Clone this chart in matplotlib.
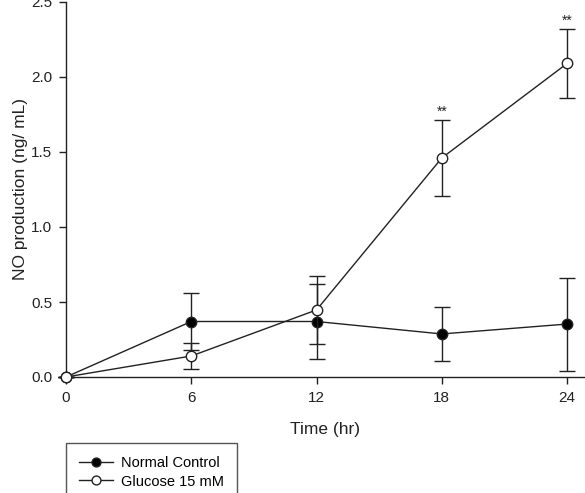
import matplotlib.pyplot as plt

plt.rcParams['font.family'] = ['Liberation Sans', 'DejaVu Sans']

time_hr = [0, 6, 12, 18, 24]
normal_mean = [0.0, 0.37, 0.37, 0.287, 0.353]
normal_err = [0.0, 0.187, 0.25, 0.177, 0.31]
glucose_mean = [0.0, 0.14, 0.447, 1.46, 2.09]
glucose_err = [0.0, 0.088, 0.228, 0.253, 0.23]
signif = {18: '**', 24: '**'}

fig = plt.figure(figsize=(5.85, 4.93), dpi=100)
ax = fig.add_axes([66 / 585, 116 / 493, 519 / 585, 375 / 493])

common = dict(color='#222222', lw=1.0, elinewidth=1.0, capsize=6, capthick=1.0,
              markersize=7.5, markeredgecolor='#222222', markeredgewidth=1.0, clip_on=False)
nc = ax.errorbar(time_hr, normal_mean, yerr=normal_err, fmt='-o', markerfacecolor='black',
                 zorder=3, **common)
gl = ax.errorbar(time_hr, glucose_mean, yerr=glucose_err, fmt='-o', markerfacecolor='white',
                 zorder=4, **common)

for x, s in signif.items():
    i = time_hr.index(x)
    ax.text(x, glucose_mean[i] + glucose_err[i] + 0.01, s, ha='center', va='bottom',
            fontsize=10, color='#222222')

ax.set_xlim(0, 24.86)
ax.set_ylim(0, 2.5)
ax.set_xticks([0, 6, 12, 18, 24])
ax.set_yticks([0.0, 0.5, 1.0, 1.5, 2.0, 2.5])
ax.set_yticklabels(['0.0', '0.5', '1.0', '1.5', '2.0', '2.5'])
ax.spines['top'].set_visible(False)
ax.spines['right'].set_visible(False)
for sp in ['left', 'bottom']:
    ax.spines[sp].set_linewidth(1.0)
    ax.spines[sp].set_color('#222222')
ax.tick_params(direction='out', length=5, width=1.0, color='#222222', labelsize=11,
               labelcolor='#222222', pad=5)
ax.set_xlabel('Time (hr)', fontsize=12.5, labelpad=12, color='#222222')
ax.set_ylabel('NO production (ng/ mL)', fontsize=12.5, labelpad=2, color='#222222')

fig.legend([nc[0], gl[0]], ['Normal Control', 'Glucose 15 mM'], loc='upper left',
           bbox_to_anchor=(66 / 585, 1 - 443 / 493), borderaxespad=0, fontsize=10.5,
           frameon=True, fancybox=False, edgecolor='#555555', framealpha=1,
           handlelength=2.3, handletextpad=0.55, borderpad=0.9, labelspacing=0.3,
           markerscale=0.85)

fig.savefig('out.png', dpi=100)
